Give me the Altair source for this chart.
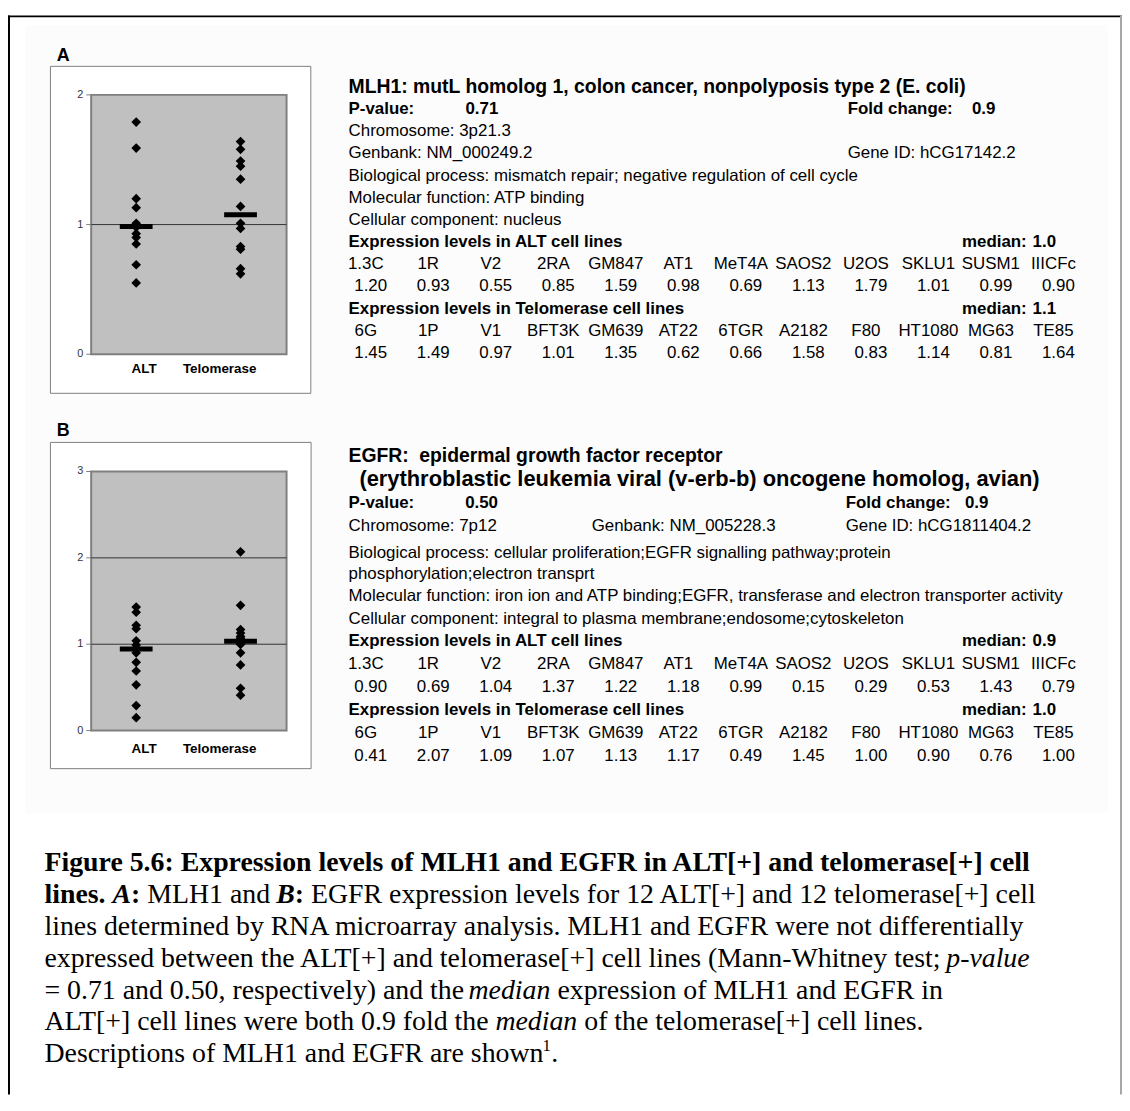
import altair as alt
import pandas as pd

# ---------------- data ----------------
groups = ["ALT", "Telomerase"]
alt_cell_lines = ["1.3C", "1R", "V2", "2RA", "GM847", "AT1", "MeT4A", "SAOS2", "U2OS", "SKLU1", "SUSM1", "IIICFc"]
tel_cell_lines = ["6G", "1P", "V1", "BFT3K", "GM639", "AT22", "6TGR", "A2182", "F80", "HT1080", "MG63", "TE85"]
mlh1_alt = [1.20, 0.93, 0.55, 0.85, 1.59, 0.98, 0.69, 1.13, 1.79, 1.01, 0.99, 0.90]
mlh1_tel = [1.45, 1.49, 0.97, 1.01, 1.35, 0.62, 0.66, 1.58, 0.83, 1.14, 0.81, 1.64]
egfr_alt = [0.90, 0.69, 1.04, 1.37, 1.22, 1.18, 0.99, 0.15, 0.29, 0.53, 1.43, 0.79]
egfr_tel = [0.41, 2.07, 1.09, 1.07, 1.13, 1.17, 0.49, 1.45, 1.00, 0.90, 0.76, 1.00]
mlh1_ticks = [0, 1, 2]
egfr_ticks = [0, 1, 2, 3]
p_values = ["0.71", "0.50"]
fold_changes = ["0.9", "0.9"]

SANS = "Liberation Sans"
SERIF = "Liberation Serif"
M = 8  # page margin


def P(v):
    return v - M


DUMMY = pd.DataFrame({"k": [0]})


def txt(s, x, y, size=17, weight="normal", style="normal", font=SANS,
        align="left", baseline="middle", color="black"):
    return alt.Chart(DUMMY).mark_text(
        font=font, fontSize=size, fontWeight=weight, fontStyle=style,
        align=align, baseline=baseline, color=color
    ).encode(x=alt.value(P(x)), y=alt.value(P(y)), text=alt.value(s))


def rect(x0, y0, x1, y1, fill, stroke=None, sw=1):
    kw = dict(fill=fill)
    if stroke:
        kw.update(stroke=stroke, strokeWidth=sw)
    else:
        kw.update(strokeWidth=0)
    return alt.Chart(DUMMY).mark_rect(**kw).encode(
        x=alt.value(P(x0)), x2=alt.value(P(x1)),
        y=alt.value(P(y0)), y2=alt.value(P(y1)))


def line(x0, y0, x1, y1, color, sw):
    return alt.Chart(DUMMY).mark_rule(color=color, strokeWidth=sw).encode(
        x=alt.value(P(x0)), x2=alt.value(P(x1)),
        y=alt.value(P(y0)), y2=alt.value(P(y1)))


# ---------------- scatter panels ----------------
def panel(alt_vals, tel_vals, ticks, box, plot, letter, letter_y, xlab_y):
    df = pd.DataFrame({"group": ["ALT"] * len(alt_vals) + ["Telomerase"] * len(tel_vals),
                       "value": alt_vals + tel_vals})
    ymax = ticks[-1]
    ys = alt.Scale(domain=[0, ymax], range=[P(plot[3]), P(plot[1])], nice=False, zero=False)
    xs = alt.Scale(type="point", domain=groups, range=[P(137), P(242)], padding=0)
    tdf = pd.DataFrame({"v": ticks})

    def Y(f):
        return alt.Y(f, scale=ys, axis=None)

    X = alt.X("group:N", scale=xs, axis=None)
    gdf = pd.DataFrame({"group": groups})
    layers = [
        rect(*box, fill="white", stroke="#7f7f7f", sw=1),
        txt(letter, 57, letter_y, size=18, weight="bold"),
        rect(*plot, fill="#c0c0c0", stroke="#7f7f7f", sw=2),
        alt.Chart(tdf).transform_filter(f"datum.v > 0 && datum.v < {ymax}")
        .mark_rule(color="#333333", strokeWidth=1)
        .encode(y=Y("v:Q"), x=alt.value(P(plot[0])), x2=alt.value(P(plot[2]))),
        alt.Chart(tdf).mark_rule(color="#7f7f7f", strokeWidth=1)
        .encode(y=Y("v:Q"), x=alt.value(P(plot[0] - 5)), x2=alt.value(P(plot[0]))),
        alt.Chart(tdf).mark_text(font=SANS, fontSize=11, align="right", baseline="middle", color="#333333")
        .encode(y=Y("v:Q"), x=alt.value(P(plot[0] - 8)), text=alt.Text("v:Q", format="d")),
        alt.Chart(df).mark_point(shape="diamond", filled=True, size=95, color="black", opacity=1)
        .encode(x=X, y=Y("value:Q")),
        alt.Chart(df).transform_aggregate(med="median(value)", groupby=["group"])
        .mark_tick(color="black", thickness=5, size=33, opacity=1)
        .encode(x=X, y=Y("med:Q")),
        alt.Chart(gdf).transform_filter("datum.group == 'ALT'")
        .mark_text(font=SANS, fontSize=13.5, fontWeight="bold", baseline="middle", dx=8)
        .encode(x=X, y=alt.value(P(xlab_y)), text="group:N"),
        alt.Chart(gdf).transform_filter("datum.group == 'Telomerase'")
        .mark_text(font=SANS, fontSize=13.5, fontWeight="bold", baseline="middle", dx=-21)
        .encode(x=X, y=alt.value(P(xlab_y)), text="group:N"),
    ]
    return alt.layer(*layers)


# ---------------- expression tables ----------------
def table(vals, names_, header, y_header, y_names, y_vals):
    df = pd.DataFrame({"idx": list(range(len(vals))), "line": names_, "value": vals})
    xs = alt.Scale(type="point", domain=list(range(len(vals))), range=[P(371), P(1063)], padding=0)
    X = alt.X("idx:O", scale=xs, axis=None)
    names = alt.Chart(df).mark_text(font=SANS, fontSize=17, baseline="middle", dx=-3).encode(
        x=X, y=alt.value(P(y_names)), text="line:N")
    values = alt.Chart(df).mark_text(font=SANS, fontSize=17, baseline="middle", dx=2).encode(
        x=X, y=alt.value(P(y_vals)), text=alt.Text("value:Q", format=".2f"))
    med = alt.Chart(df).transform_aggregate(med="median(value)").mark_text(
        font=SANS, fontSize=17, fontWeight="bold", align="left", baseline="middle").encode(
        x=alt.value(P(1039)), y=alt.value(P(y_header)), text=alt.Text("med:Q", format=".1f"))
    return alt.layer(txt(header, 350.7, y_header, weight="bold"),
                     txt("median:", 968, y_header, weight="bold"),
                     names, values, med)


# ---------------- caption (Times metrics) ----------------
_lc = "abcdefghijklmnopqrstuvwxyz"
_uc = "ABCDEFGHIJKLMNOPQRSTUVWXYZ"
TR = dict(zip(_lc, [444, 500, 444, 500, 444, 333, 500, 500, 278, 278, 500, 278, 778, 500, 500, 500, 500, 333, 389, 278, 500, 500, 722, 500, 500, 444]))
TR.update(zip(_uc, [722, 667, 667, 722, 611, 556, 722, 722, 333, 389, 722, 611, 889, 722, 722, 556, 722, 667, 556, 611, 722, 722, 944, 722, 722, 611]))
TR.update({" ": 250, ".": 250, ",": 250, ":": 278, ";": 278, "(": 333, ")": 333, "[": 333, "]": 333, "+": 564, "=": 564, "-": 333})
TR.update({d: 500 for d in "0123456789"})
TB = dict(zip(_lc, [500, 556, 444, 556, 444, 333, 500, 556, 278, 333, 556, 278, 833, 556, 500, 556, 556, 444, 389, 333, 556, 500, 722, 500, 500, 444]))
TB.update(zip(_uc, [722, 667, 722, 722, 667, 611, 778, 778, 389, 500, 778, 667, 944, 722, 778, 611, 778, 722, 556, 667, 722, 722, 1000, 722, 722, 667]))
TB.update({" ": 250, ".": 250, ",": 250, ":": 333, ";": 333, "(": 333, ")": 333, "[": 333, "]": 333, "+": 570, "-": 333})
TB.update({d: 500 for d in "0123456789"})
TI = dict(zip(_lc, [500, 500, 444, 500, 444, 278, 500, 500, 278, 278, 444, 278, 722, 500, 500, 500, 500, 389, 389, 278, 500, 444, 667, 444, 444, 389]))
TI.update({" ": 250, "-": 333})
TBI = {"A": 667, "B": 667, " ": 250, ":": 333}
TABLES = {"R": TR, "B": TB, "I": TI, "BI": TBI}
KERN = 0.9935  # browser kerning shortens long runs slightly


def tw(s, st, size):
    t = TABLES[st]
    return sum(t.get(c, 500) for c in s) * size / 1000.0 * (KERN if len(s) > 8 else 1.0)


CAP = 28.0


def cap_line(segs, x0, yb, size=CAP):
    out = []
    x = x0
    for s, st in segs:
        if st == "SUP":
            out.append(txt(s, x + 2, yb - 0.4 * size, size=size * 0.6, font=SERIF, baseline="alphabetic"))
            x += tw(s, "R", size * 0.6) + 2.5
            continue
        lead = len(s) - len(s.lstrip(" "))
        xs_ = x + lead * TABLES[st][" "] * size / 1000.0
        core = s.strip(" ")
        if core:
            out.append(txt(core, xs_, yb, size=size,
                           weight="bold" if "B" in st else "normal",
                           style="italic" if "I" in st else "normal",
                           font=SERIF, baseline="alphabetic"))
        x += tw(s, st, size)
    return out


caption_lines = [
    [("Figure 5.6: Expression levels of MLH1 and EGFR in ALT[+] and telomerase[+] cell", "B")],
    [("lines.", "B"), (" ", "B"), ("A", "BI"), (":", "B"), (" MLH1 and ", "R"), ("B", "BI"), (":", "B"),
     (" EGFR expression levels for 12 ALT[+] and 12 telomerase[+] cell", "R")],
    [("lines determined by RNA microarray analysis. MLH1 and EGFR were not differentially", "R")],
    [("expressed between the ALT[+] and telomerase[+] cell lines (Mann-Whitney test; ", "R"), ("p-value", "I")],
    [("= 0.71 and 0.50, respectively) and the ", "R"), ("median", "I"), (" expression of MLH1 and EGFR in", "R")],
    [("ALT[+] cell lines were both 0.9 fold the ", "R"), ("median", "I"), (" of the telomerase[+] cell lines.", "R")],
    [("Descriptions of MLH1 and EGFR are shown", "R"), ("1", "SUP"), (".", "R")],
]

# ---------------- assemble ----------------
H = 1090
layers = [
    rect(25, 22, 1115, 815, fill="#fcfcfc"),
    line(8, 13, 1129, 13, "black", 2),
    line(9, 12, 9, H + M, "black", 2),
    line(1128, 12, 1128, H + M, "#a6a6a6", 2),
    panel(mlh1_alt, mlh1_tel, mlh1_ticks, (50.7, 63.3, 312.7, 392.3), (91.7, 92, 288.3, 353), "A", 53, 368),
    panel(egfr_alt, egfr_tel, egfr_ticks, (50.7, 441.7, 313, 770), (91.7, 471, 288.3, 731.7), "B", 430, 750),
]

# panel A description
XA = 350.7
ra = [84 + 22.3 * i for i in range(13)]
layers += [
    txt("MLH1: mutL homolog 1, colon cancer, nonpolyposis type 2 (E. coli)", XA, ra[0], size=19.5, weight="bold"),
    txt("P-value:", XA, ra[1], weight="bold"),
    txt(p_values[0], 468.3, ra[1], weight="bold"),
    txt("Fold change:", 853, ra[1], weight="bold"),
    txt(fold_changes[0], 978, ra[1], weight="bold"),
    txt("Chromosome: 3p21.3", XA, ra[2]),
    txt("Genbank: NM_000249.2", XA, ra[3]),
    txt("Gene ID: hCG17142.2", 853, ra[3]),
    txt("Biological process: mismatch repair; negative regulation of cell cycle", XA, ra[4]),
    txt("Molecular function: ATP binding", XA, ra[5]),
    txt("Cellular component: nucleus", XA, ra[6]),
    table(mlh1_alt, alt_cell_lines, "Expression levels in ALT cell lines", ra[7], ra[8], ra[9]),
    table(mlh1_tel, tel_cell_lines, "Expression levels in Telomerase cell lines", ra[10], ra[11], ra[12]),
]

# panel B description
rb = [455, 479, 503, 526, 553, 574, 596, 619, 642, 665, 688, 711, 734, 757]
layers += [
    txt("EGFR:", XA, rb[0], size=19.5, weight="bold"),
    txt("epidermal growth factor receptor", 421.8, rb[0], size=19.5, weight="bold"),
    txt("(erythroblastic leukemia viral (v-erb-b) oncogene homolog, avian)", 361.6, rb[1], size=22, weight="bold"),
    txt("P-value:", XA, rb[2], weight="bold"),
    txt(p_values[1], 468, rb[2], weight="bold"),
    txt("Fold change:", 851, rb[2], weight="bold"),
    txt(fold_changes[1], 971, rb[2], weight="bold"),
    txt("Chromosome: 7p12", XA, rb[3]),
    txt("Genbank: NM_005228.3", 595.3, rb[3]),
    txt("Gene ID: hCG1811404.2", 851, rb[3]),
    txt("Biological process: cellular proliferation;EGFR signalling pathway;protein", XA, rb[4]),
    txt("phosphorylation;electron transprt", XA, rb[5]),
    txt("Molecular function: iron ion and ATP binding;EGFR, transferase and electron transporter activity", XA, rb[6]),
    txt("Cellular component: integral to plasma membrane;endosome;cytoskeleton", XA, rb[7]),
    table(egfr_alt, alt_cell_lines, "Expression levels in ALT cell lines", rb[8], rb[9], rb[10]),
    table(egfr_tel, tel_cell_lines, "Expression levels in Telomerase cell lines", rb[11], rb[12], rb[13]),
]

for i, segs in enumerate(caption_lines):
    layers += cap_line(segs, 44.7, 873.5 + 32 * i)

chart = alt.layer(*layers).resolve_scale(
    x="independent", y="independent"
).properties(
    width=1121, height=H, padding=0,
    autosize=alt.AutoSizeParams(type="none")
).configure_view(stroke="transparent")

chart.save("out.html", embed_options={"renderer": "svg", "actions": False})
